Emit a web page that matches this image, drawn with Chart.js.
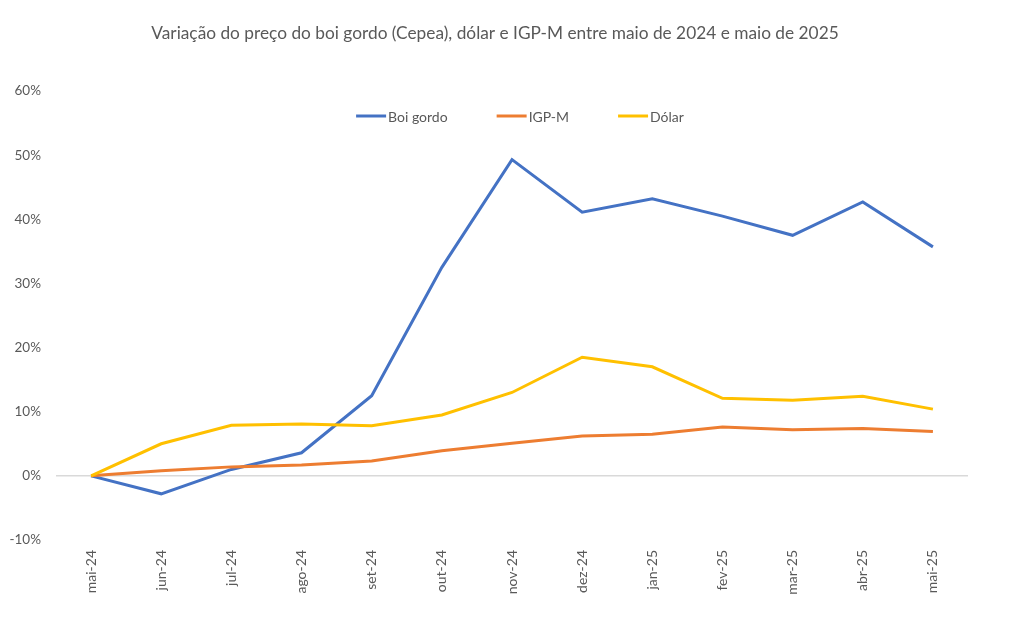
<!DOCTYPE html>
<html>
<head>
<meta charset="utf-8">
<script src="https://cdn.jsdelivr.net/npm/chart.js@4"></script>
<style>
html,body{margin:0;padding:0;background:#fff;}
#wrap{width:1012px;height:629px;position:relative;}
</style>
</head>
<body>
<div id="wrap"><canvas id="c" width="1012" height="629"></canvas></div>
<script>
const categories = ["mai-24","jun-24","jul-24","ago-24","set-24","out-24","nov-24","dez-24","jan-25","fev-25","mar-25","abr-25","mai-25"];
const boiGordo = [0, -2.8, 1.0, 3.6, 12.5, 32.5, 49.3, 41.1, 43.2, 40.5, 37.5, 42.7, 35.7];
const igpm = [0, 0.8, 1.4, 1.7, 2.3, 3.9, 5.1, 6.2, 6.5, 7.6, 7.2, 7.4, 6.9];
const dolar = [0, 5.0, 7.9, 8.1, 7.8, 9.5, 13.0, 18.5, 17.0, 12.1, 11.8, 12.4, 10.4];
const seriesNames = ["Boi gordo", "IGP-M", "Dólar"];
const titleText = "Variação do preço do boi gordo (Cepea), dólar e IGP-M entre maio de 2024 e maio de 2025";

const FONT = "Lato, 'Open Sans', sans-serif";
const TXT = "#595959";

const titlePlugin = {
  id: 'customTitle',
  afterDraw(chart) {
    const ctx = chart.ctx;
    ctx.save();
    ctx.font = "17.3px " + FONT;
    ctx.fillStyle = TXT;
    ctx.textAlign = "center";
    ctx.textBaseline = "middle";
    ctx.fillText(titleText, 495, 33);
    ctx.restore();
  }
};

const legendPlugin = {
  id: 'innerLegend',
  afterDraw(chart) {
    const ctx = chart.ctx;
    const ds = chart.data.datasets;
    ctx.save();
    ctx.font = "14px " + FONT;
    ctx.textBaseline = "middle";
    ctx.textAlign = "left";
    const lineLen = 30, gapText = 2, gapItem = 49;
    const widths = ds.map(d => ctx.measureText(d.label).width);
    let total = 0;
    widths.forEach((w, i) => { total += lineLen + gapText + w + (i < widths.length - 1 ? gapItem : 0); });
    let x = 520 - total / 2;
    const y = 116;
    ds.forEach((d, i) => {
      ctx.strokeStyle = d.borderColor;
      ctx.lineWidth = 3;
      ctx.beginPath();
      ctx.moveTo(x, y);
      ctx.lineTo(x + lineLen, y);
      ctx.stroke();
      ctx.fillStyle = TXT;
      ctx.fillText(d.label, x + lineLen + gapText, y + 1);
      x += lineLen + gapText + widths[i] + gapItem;
    });
    ctx.restore();
  }
};

new Chart(document.getElementById('c'), {
  type: 'line',
  data: {
    labels: categories,
    datasets: [
      { label: seriesNames[0], data: boiGordo, borderColor: '#4472C4', backgroundColor: '#4472C4', borderWidth: 3, pointRadius: 0, tension: 0, order: 3 },
      { label: seriesNames[1], data: igpm, borderColor: '#ED7D31', backgroundColor: '#ED7D31', borderWidth: 3, pointRadius: 0, tension: 0, order: 2 },
      { label: seriesNames[2], data: dolar, borderColor: '#FFC000', backgroundColor: '#FFC000', borderWidth: 3, pointRadius: 0, tension: 0, order: 1 }
    ]
  },
  options: {
    responsive: false,
    animation: false,
    devicePixelRatio: 1,
    layout: { padding: { left: 0, right: 44, top: 91, bottom: 0 } },
    plugins: {
      legend: { display: false },
      tooltip: { enabled: false },
      title: { display: false }
    },
    scales: {
      x: {
        type: 'category',
        offset: true,
        grid: { display: false, drawTicks: false },
        border: { display: false },
        ticks: {
          color: TXT,
          font: { family: FONT, size: 14 },
          minRotation: 90,
          maxRotation: 90,
          padding: 10,
          autoSkip: false
        },
        afterFit(scale) { scale.height = 89; }
      },
      y: {
        min: -10,
        max: 60,
        grid: {
          drawTicks: false,
          color: (c) => (c.tick && c.tick.value === 0) ? '#d9d9d9' : 'rgba(0,0,0,0)',
          lineWidth: 1.5
        },
        border: { display: false },
        ticks: {
          stepSize: 10,
          color: TXT,
          font: { family: FONT, size: 13.5 },
          padding: 15,
          callback: (v) => v + '%'
        },
        afterFit(scale) { scale.width = 56; }
      }
    }
  },
  plugins: [titlePlugin, legendPlugin]
});
</script>
</body>
</html>
